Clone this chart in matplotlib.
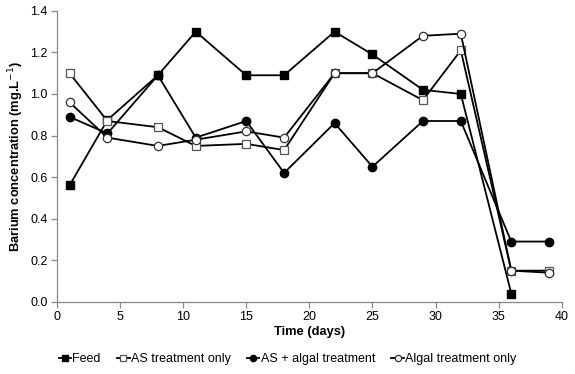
import matplotlib
matplotlib.use("Agg")
import matplotlib.pyplot as plt
from matplotlib.ticker import FormatStrFormatter

plt.rcParams['font.family'] = ['Liberation Sans', 'DejaVu Sans']

days = [1, 4, 8, 11, 15, 18, 22, 25, 29, 32, 36, 39]
feed_days = [1, 4, 8, 11, 15, 18, 22, 25, 29, 32, 36]
feed = [0.56, 0.875, 1.09, 1.30, 1.09, 1.09, 1.30, 1.19, 1.02, 1.00, 0.04]
as_only = [1.10, 0.87, 0.84, 0.75, 0.76, 0.73, 1.10, 1.10, 0.97, 1.21, 0.15, 0.15]
as_algal = [0.89, 0.81, 1.09, 0.79, 0.87, 0.62, 0.86, 0.65, 0.87, 0.87, 0.29, 0.29]
algal_only = [0.96, 0.79, 0.75, 0.78, 0.82, 0.79, 1.10, 1.10, 1.28, 1.29, 0.15, 0.14]

x_ticks = list(range(0, 41, 5))
y_ticks = [0.0, 0.2, 0.4, 0.6, 0.8, 1.0, 1.2, 1.4]

fig = plt.figure(figsize=(5.75, 3.74), dpi=100)
ax = fig.add_axes([0.099, 0.193, 0.878, 0.778])

lw = 1.3
ax.plot(feed_days, feed, color='black', lw=lw, marker='s', ms=6,
        mfc='black', mec='black', label='Feed')
ax.plot(days, as_only, color='black', lw=lw, marker='s', ms=6,
        mfc='white', mec='#555555', mew=0.9, label='AS treatment only')
ax.plot(days, as_algal, color='black', lw=lw, marker='o', ms=6,
        mfc='black', mec='black', label='AS + algal treatment')
ax.plot(days, algal_only, color='black', lw=lw, marker='o', ms=6,
        mfc='white', mec='#333333', mew=0.9, label='Algal treatment only')

ax.set_xlim(0, 40)
ax.set_ylim(0, 1.4)
ax.set_xticks(x_ticks)
ax.set_yticks(y_ticks)
ax.yaxis.set_major_formatter(FormatStrFormatter('%.1f'))

for side in ('top', 'right'):
    ax.spines[side].set_visible(False)
for side in ('left', 'bottom'):
    ax.spines[side].set_color('#888888')
    ax.spines[side].set_linewidth(0.9)
ax.tick_params(axis='both', direction='out', length=4, width=0.9,
               color='#888888', labelsize=9, labelcolor='black', pad=2.5)

ax.set_xlabel('Time (days)', fontsize=9.3, fontweight='bold', labelpad=2)
ax.set_ylabel('Barium concentration (mg.L$^{-1}$)', fontsize=9.3,
              fontweight='bold', labelpad=3)

fig.legend(loc='center', bbox_to_anchor=(0.5, 0.04), ncol=4, frameon=False,
           fontsize=9, handlelength=1.0, handletextpad=0.1, columnspacing=1.3,
           markerscale=0.75)

fig.savefig('out.png', dpi=100)
